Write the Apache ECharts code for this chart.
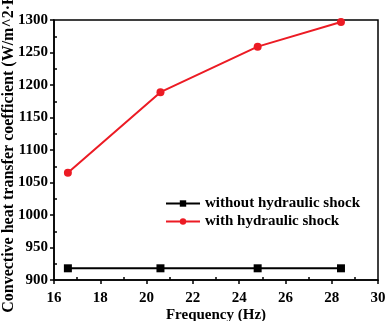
<!DOCTYPE html>
<html>
<head>
<meta charset="utf-8">
<script src="https://cdn.jsdelivr.net/npm/echarts@6/dist/echarts.min.js"></script>
<style>html,body{margin:0;padding:0;background:#fff}#c{width:385px;height:321px}</style>
</head>
<body>
<div id="c"></div>
<script>
var frequency = [16.6, 20.6, 24.8, 28.4];
var withoutShock = [918, 918, 918, 918];
var withShock = [1065, 1189, 1259, 1297];
var seriesNames = ['without hydraulic shock', 'with hydraulic shock'];
var xTitle = 'Frequency (Hz)';
var yTitle = 'Convective heat transfer coefficient (W/m^2\u00b7K)';

function pairs(xs, ys) { return xs.map(function (x, i) { return [x, ys[i]]; }); }
function plain(v) { return String(v); }

var font = 'Liberation Serif';
var chart = echarts.init(document.getElementById('c'), null, {renderer: 'canvas'});
chart.setOption({
  animation: false,
  backgroundColor: '#fff',
  grid: {left: 54, right: 7, top: 20, bottom: 41, show: true, borderColor: '#000', borderWidth: 1.5, containLabel: false, outerBoundsMode: 'none'},
  legend: {
    left: 160, top: 191, orient: 'vertical', itemWidth: 34, itemHeight: 8, itemGap: 3,
    textStyle: {fontFamily: font, fontWeight: 'bold', fontSize: 15, color: '#000'},
    data: seriesNames
  },
  xAxis: [{
    type: 'value', min: 16, max: 30, interval: 2,
    axisLine: {show: true, lineStyle: {color: '#000', width: 1.5}},
    axisTick: {show: true, length: 4, lineStyle: {color: '#000', width: 1.5}},
    axisLabel: {margin: 11, formatter: plain, fontFamily: font, fontWeight: 'bold', fontSize: 15, color: '#000'},
    splitLine: {show: false},
    name: xTitle, nameLocation: 'middle', nameGap: 28, nameMoveOverlap: false,
    nameTextStyle: {fontFamily: font, fontWeight: 'bold', fontSize: 15, color: '#000'}
  }, {
    type: 'value', min: 16, max: 30, interval: 2, position: 'bottom',
    axisLine: {show: false}, axisTick: {show: false, inside: true},
    minorTick: {show: true, splitNumber: 2, length: 3, lineStyle: {color: '#000', width: 1.5}},
    axisLabel: {show: false}, splitLine: {show: false}
  }],
  yAxis: [{
    type: 'value', min: 900, max: 1300, interval: 50,
    axisLine: {show: true, lineStyle: {color: '#000', width: 1.5}},
    axisTick: {show: true, length: 4, lineStyle: {color: '#000', width: 1.5}},
    axisLabel: {margin: 6, formatter: plain, fontFamily: font, fontWeight: 'bold', fontSize: 15, color: '#000'},
    splitLine: {show: false},
    name: yTitle, nameLocation: 'middle', nameGap: 37, nameRotate: 90, nameMoveOverlap: false,
    nameTextStyle: {fontFamily: font, fontWeight: 'bold', fontSize: 16, color: '#000'}
  }, {
    type: 'value', min: 900, max: 1300, interval: 50, position: 'left',
    axisLine: {show: false}, axisTick: {show: false, inside: true},
    minorTick: {show: true, splitNumber: 2, length: 3, lineStyle: {color: '#000', width: 1.5}},
    axisLabel: {show: false}, splitLine: {show: false}
  }],
  series: [{
    name: seriesNames[0], type: 'line', data: pairs(frequency, withoutShock),
    symbol: 'rect', symbolSize: 8, color: '#000',
    lineStyle: {color: '#000', width: 2}, itemStyle: {color: '#000'}
  }, {
    name: seriesNames[1], type: 'line', data: pairs(frequency, withShock),
    symbol: 'circle', symbolSize: 8, color: '#ec1b24',
    lineStyle: {color: '#ec1b24', width: 2}, itemStyle: {color: '#ec1b24'}
  }]
});
</script>
</body>
</html>
